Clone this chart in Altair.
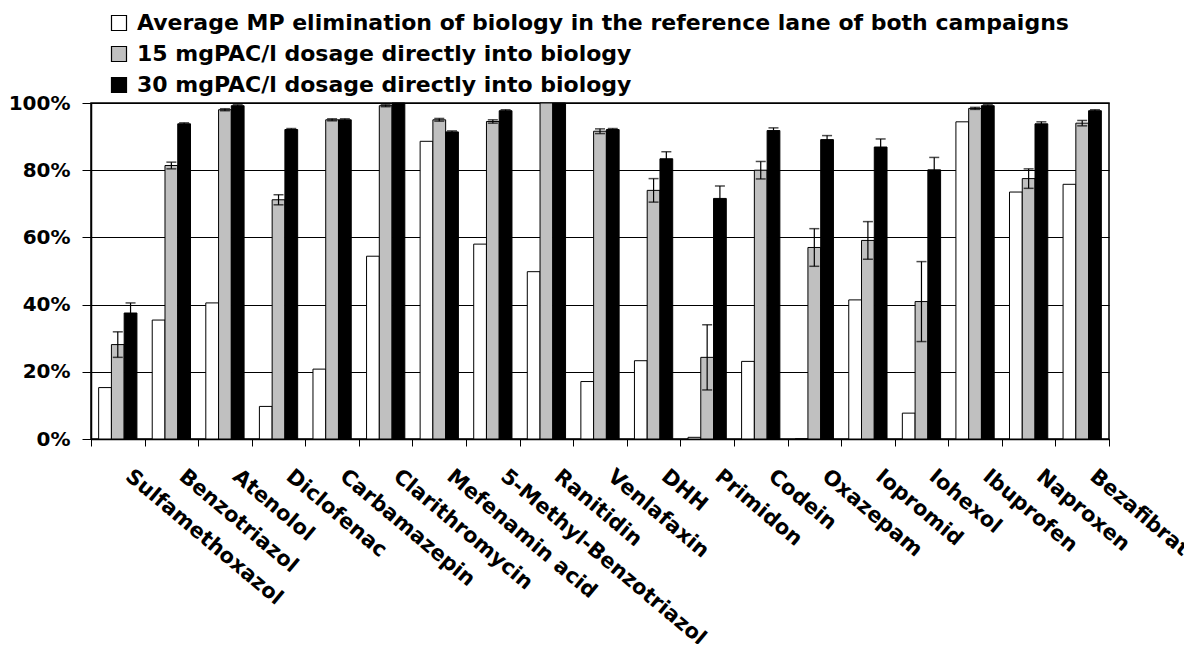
import altair as alt
import pandas as pd

categories = ["Sulfamethoxazol", "Benzotriazol", "Atenolol", "Diclofenac", "Carbamazepin",
              "Clarithromycin", "Mefenamin acid", "5-Methyl-Benzotriazol", "Ranitidin",
              "Venlafaxin", "DHH", "Primidon", "Codein", "Oxazepam", "Iopromid", "Iohexol",
              "Ibuprofen", "Naproxen", "Bezafibrat"]

series = ["Average MP elimination of biology in the reference lane of both campaigns",
          "15 mgPAC/l dosage directly into biology",
          "30 mgPAC/l dosage directly into biology"]

ref_vals = [15.3, 35.4, 40.5, 9.7, 20.8, 54.4, 88.6, 58.0, 49.8, 17.1, 23.3, 0.5, 23.1, 0.0,
            41.4, 7.7, 94.4, 73.5, 75.8]
pac15_vals = [28.1, 81.4, 98.0, 71.2, 95.0, 99.2, 95.0, 94.5, 100.0, 91.6, 74.0, 24.3, 80.0,
              57.0, 59.1, 40.9, 98.4, 77.5, 94.0]
pac30_vals = [37.5, 93.8, 99.2, 92.1, 95.0, 100.0, 91.4, 97.7, 100.0, 92.1, 83.4, 71.6, 91.8,
              89.1, 86.9, 80.1, 99.2, 93.8, 97.7]

pac15_err = [3.8, 1.0, 0.3, 1.5, 0.3, 0.3, 0.4, 0.5, 0.0, 0.7, 3.5, 9.7, 2.6, 5.6, 5.6, 11.9,
             0.3, 2.9, 0.8]
pac30_err = [3.0, 0.3, 0.3, 0.3, 0.3, 0.0, 0.3, 0.3, 0.0, 0.3, 2.1, 3.7, 0.8, 1.2, 2.4, 3.7,
             0.3, 0.6, 0.3]

colors = ["white", "#c0c0c0", "black"]

rows = []
for vals, s in zip([ref_vals, pac15_vals, pac30_vals], series):
    for c, v in zip(categories, vals):
        rows.append({"cat": c, "series": s, "val": v})
df = pd.DataFrame(rows)

erows = []
for vals, errs, s in zip([pac15_vals, pac30_vals], [pac15_err, pac30_err], series[1:]):
    for c, v, e in zip(categories, vals, errs):
        if e > 0:
            erows.append({"cat": c, "series": s, "lo": v - e, "hi": min(v + e, 100.0)})
edf = pd.DataFrame(erows)

FONT = "DejaVu Sans"

x_enc = alt.X("cat:N", sort=categories, title=None,
              scale=alt.Scale(paddingInner=0, paddingOuter=0),
              axis=alt.Axis(labelAngle=40, labelAlign="left", labelBaseline="top",
                            labelFont=FONT, labelFontWeight="bold", labelFontSize=21,
                            labelColor="black", labelLimit=1000, labelOffset=17,
                            labelPadding=19, tickBand="extent", tickSize=7,
                            tickColor="black", domainColor="black", domainWidth=1.5,
                            grid=False))
xoff_enc = alt.XOffset("series:N", sort=series,
                       scale=alt.Scale(paddingInner=0, paddingOuter=0.6))
y_axis = alt.Axis(values=[0, 20, 40, 60, 80, 100], labelExpr="datum.value + '%'",
                  labelFont=FONT, labelFontWeight="bold", labelFontSize=20,
                  labelColor="black", labelPadding=12, tickSize=9, tickColor="black",
                  domainColor="black", domainWidth=1.5, grid=True, gridColor="black",
                  gridWidth=1, gridOpacity=1)
y_scale = alt.Scale(domain=[0, 100], nice=False)

bars = alt.Chart(df).mark_bar(stroke="black", strokeWidth=1).encode(
    x=x_enc,
    xOffset=xoff_enc,
    y=alt.Y("val:Q", scale=y_scale, axis=y_axis, title=None),
    fill=alt.Fill("series:N", sort=series,
                  scale=alt.Scale(domain=series, range=colors),
                  legend=alt.Legend(title=None, orient="none", legendX=17, legendY=-91,
                                    labelFont=FONT, labelFontWeight="bold",
                                    labelFontSize=22, labelColor="black", labelLimit=2000,
                                    symbolType="square", symbolSize=225,
                                    symbolStrokeColor="black", symbolStrokeWidth=1.2,
                                    rowPadding=9, labelOffset=7)),
)

rules = alt.Chart(edf).mark_rule(color="black", strokeWidth=1.2).encode(
    x=x_enc, xOffset=xoff_enc,
    y=alt.Y("lo:Q", scale=y_scale, title=None), y2="hi:Q",
)
caps_hi = alt.Chart(edf).mark_tick(color="black", thickness=1.5, size=10,
                                   orient="horizontal").encode(
    x=x_enc, xOffset=xoff_enc, y=alt.Y("hi:Q", scale=y_scale, title=None),
)
caps_lo = alt.Chart(edf).mark_tick(color="black", thickness=1.5, size=10,
                                   orient="horizontal").encode(
    x=x_enc, xOffset=xoff_enc, y=alt.Y("lo:Q", scale=y_scale, title=None),
)

chart = alt.layer(bars, rules, caps_hi, caps_lo).properties(
    width=1018, height=336,
    autosize=alt.AutoSizeParams(type="none"),
    padding={"left": 83, "top": 95, "right": 75, "bottom": 205},
    background="white",
).configure_view(stroke="black", strokeWidth=1.5)

chart.save("out.html", embed_options={"renderer": "svg", "actions": False})
